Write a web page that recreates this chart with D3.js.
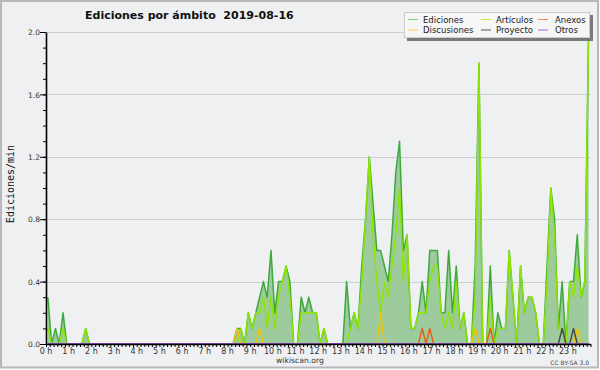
<!DOCTYPE html>
<html><head><meta charset="utf-8">
<script src="https://cdn.jsdelivr.net/npm/d3@7"></script>
<style>html,body{margin:0;padding:0;background:#fff}svg{display:block}</style>
</head><body>
<svg id="c" width="600" height="370"></svg>
<script>
// ---- data (one value per 10 minutes, edits/min) ----
const hourLabels = ["0 h","1 h","2 h","3 h","4 h","5 h","6 h","7 h","8 h","9 h","10 h","11 h",
  "12 h","13 h","14 h","15 h","16 h","17 h","18 h","19 h","20 h","21 h","22 h","23 h"];
const yTickValues = [0.0, 0.4, 0.8, 1.2, 1.6, 2.0];
const seriesNames = ["Ediciones","Artículos","Anexos","Discusiones","Proyecto","Otros"];

const ediciones = [
  0.3,0,0.1,0,0.2,0,0,0,0,0,0.1,0,
  0,0,0,0,0,0,0,0,0,0,0,0,
  0,0,0,0,0,0,0,0,0,0,0,0,
  0,0,0,0,0,0,0,0,0,0,0,0,
  0,0,0.1,0.1,0,0.2,0.1,0.2,0.3,0.4,0.3,0.6,
  0.2,0.4,0.4,0.5,0.4,0,0,0.3,0.2,0.3,0.2,0.2,
  0,0.1,0,0,0,0,0,0.4,0.1,0.2,0.1,0.5,
  0.8,1.2,0.9,0.6,0.6,0.5,0.4,0.7,1.1,1.3,0.6,0.7,
  0.1,0.1,0.2,0.4,0.2,0.6,0.6,0.6,0.2,0.2,0.6,0.2,
  0.5,0.1,0.2,0,0,0.5,1.8,0,0,0.5,0,0.2,
  0.1,0.1,0.6,0.3,0,0.5,0.2,0.3,0.3,0.2,0,0,
  0.5,1.0,0.8,0.1,0.4,0,0.4,0.4,0.7,0.3,0.4,2.0
];
const articulos = [
  0.1,0,0,0,0.1,0,0,0,0,0,0.1,0,
  0,0,0,0,0,0,0,0,0,0,0,0,
  0,0,0,0,0,0,0,0,0,0,0,0,
  0,0,0,0,0,0,0,0,0,0,0,0,
  0,0,0,0.1,0,0.2,0.1,0.2,0.2,0.3,0.1,0.3,
  0.1,0.3,0.4,0.5,0.3,0,0,0.2,0.2,0.2,0.2,0.2,
  0,0.1,0,0,0,0,0,0,0.1,0.2,0.1,0.4,
  0.8,1.2,0.7,0.4,0.2,0.4,0.3,0.5,0.7,1.0,0.4,0.7,
  0.1,0.1,0.2,0.2,0.2,0.4,0.5,0.5,0.2,0.1,0.2,0.1,
  0.4,0.1,0.2,0,0,0.3,1.8,0,0,0.3,0,0.1,
  0.1,0.1,0.6,0.3,0,0.5,0.2,0.3,0.3,0.2,0,0,
  0.4,1.0,0.7,0.1,0.1,0,0.4,0.3,0.5,0.3,0.4,2.0
];
const anexos = [
  0,0,0,0,0,0,0,0,0,0,0,0,
  0,0,0,0,0,0,0,0,0,0,0,0,
  0,0,0,0,0,0,0,0,0,0,0,0,
  0,0,0,0,0,0,0,0,0,0,0,0,
  0,0,0,0,0,0,0,0,0,0,0,0,
  0,0,0,0,0,0,0,0,0,0,0,0,
  0,0,0,0,0,0,0,0,0,0,0,0,
  0,0,0,0,0,0,0,0,0,0,0,0,
  0,0,0,0.1,0,0.1,0,0,0,0,0,0,
  0,0,0,0,0,0,0,0,0,0.1,0,0,
  0,0,0,0,0,0,0,0,0,0,0,0,
  0,0,0,0,0,0,0,0,0,0,0,0
];
const discusiones = [
  0,0,0,0,0,0,0,0,0,0,0,0,
  0,0,0,0,0,0,0,0,0,0,0,0,
  0,0,0,0,0,0,0,0,0,0,0,0,
  0,0,0,0,0,0,0,0,0,0,0,0,
  0,0,0.1,0,0,0,0,0,0.1,0,0,0,
  0,0,0,0,0,0,0,0,0,0,0,0,
  0,0,0,0,0,0,0,0,0,0,0,0,
  0,0,0,0,0.2,0,0,0,0,0,0,0,
  0,0,0,0,0,0,0,0,0,0,0,0,
  0,0,0,0,0,0.1,0,0,0,0,0,0,
  0,0,0,0,0,0,0,0,0,0,0,0,
  0,0,0,0,0,0,0,0,0.1,0,0,0
];
const proyecto = [
  0,0,0,0,0,0,0,0,0,0,0,0,
  0,0,0,0,0,0,0,0,0,0,0,0,
  0,0,0,0,0,0,0,0,0,0,0,0,
  0,0,0,0,0,0,0,0,0,0,0,0,
  0,0,0,0,0,0,0,0,0,0,0,0,
  0,0,0,0,0,0,0,0,0,0,0,0,
  0,0,0,0,0,0,0,0,0,0,0,0,
  0,0,0,0,0,0,0,0,0,0,0,0,
  0,0,0,0,0,0,0,0,0,0,0,0,
  0,0,0,0,0,0,0,0,0,0,0,0,
  0,0,0,0,0,0,0,0,0,0,0,0,
  0,0,0,0,0.1,0,0,0.1,0,0,0,0
];
const otros = [
  0,0,0,0,0,0,0,0,0,0,0,0,
  0,0,0,0,0,0,0,0,0,0,0,0,
  0,0,0,0,0,0,0,0,0,0,0,0,
  0,0,0,0,0,0,0,0,0,0,0,0,
  0,0,0,0,0,0,0,0,0,0,0,0,
  0,0,0,0,0,0,0,0,0,0,0,0,
  0,0,0,0,0,0,0,0,0,0,0,0,
  0,0,0,0,0,0,0,0,0,0,0,0,
  0,0,0,0,0,0,0,0,0,0,0,0,
  0,0,0,0,0,0,0,0,0,0,0,0,
  0,0,0,0,0,0,0,0,0,0,0,0,
  0,0,0,0,0,0,0,0,0,0,0,0
];

(function draw() {
const colors = {
  "Ediciones":"#3daa3d", "Artículos":"#8ee600", "Anexos":"#ee5a10",
  "Discusiones":"#f0c400", "Proyecto":"#444444", "Otros":"#9a4ef0"
};
const legendColors = {
  "Ediciones":"#86cc86", "Artículos":"#c4ee4a", "Anexos":"#f08a5a",
  "Discusiones":"#f6d050", "Proyecto":"#555555", "Otros":"#a060f0"
};
const pLeft = 46, pRight = 590.5, pTop = 32, pBottom = 344;
const svg = d3.select("#c");
svg.append("rect").attr("width",600).attr("height",370).attr("fill","#ffffff");
svg.append("rect").attr("x",1).attr("y",1).attr("width",597).attr("height",366.5)
  .attr("fill","#eef0f2").attr("stroke","#b8b8b8").attr("stroke-width",2);

const x = d3.scaleLinear().domain([0,24]).range([pLeft,pRight]);
const y = d3.scaleLinear().domain([0,2]).range([pBottom,pTop]);
const tx = i => x((i + 0.5) / 6);

// gridlines
svg.append("g").selectAll("line").data(yTickValues.filter(v => v > 0)).join("line")
  .attr("x1",pLeft).attr("x2",pRight)
  .attr("y1",d => Math.round(y(d)) + 0.5).attr("y2",d => Math.round(y(d)) + 0.5)
  .attr("stroke","#cfcfcf").attr("stroke-width",1);

// Ediciones area
const area = d3.area().x((d,i) => tx(i)).y0(y(0)).y1(d => y(d));
const line = d3.line().x((d,i) => tx(i)).y(d => y(d));
svg.append("path").datum(ediciones).attr("d",area).attr("fill","#9ecb9e");
svg.append("path").datum(ediciones).attr("d",line).attr("fill","none")
  .attr("stroke",colors["Ediciones"]).attr("stroke-width",1.5).attr("stroke-linejoin","round");

const order = [["Artículos",articulos],["Anexos",anexos],["Discusiones",discusiones],["Proyecto",proyecto],["Otros",otros]];
order.forEach(([name, vals]) => {
  svg.append("path").datum(vals).attr("d",line).attr("fill","none")
    .attr("stroke",colors[name]).attr("stroke-width",1.4).attr("stroke-linejoin","round");
});

// y axis
const fontTick = "'DejaVu Sans', sans-serif";
const yMinor = svg.append("g").attr("transform",`translate(${pLeft},0)`)
  .call(d3.axisLeft(y).tickValues(d3.range(0,21).map(k => k/10)).tickSize(3).tickFormat(""));
yMinor.select(".domain").remove();
const yAx = svg.append("g").attr("transform",`translate(${pLeft},0)`)
  .call(d3.axisLeft(y).tickValues(yTickValues).tickSize(6).tickSizeOuter(0).tickFormat(d3.format(".1f")));
yAx.select(".domain").attr("stroke","#000").attr("stroke-width",1.6);
yAx.selectAll("text").attr("font-family",fontTick).attr("font-size",7.5).attr("fill","#333").attr("x",-6).attr("dy","0.35em");
svg.selectAll("g .tick line").attr("stroke","#000");

// x axis
const xAx = svg.append("g").attr("transform",`translate(0,${pBottom})`)
  .call(d3.axisBottom(x).tickValues(d3.range(0,145).map(k => k/6)).tickSize(3).tickSizeOuter(0).tickFormat(""));
xAx.select(".domain").attr("stroke","#000").attr("stroke-width",1.6);
xAx.selectAll(".tick line").attr("stroke","#000");
svg.append("g").selectAll("text").data(hourLabels).join("text")
  .attr("x",(d,i) => x(i)).attr("y",353.5).attr("text-anchor","middle")
  .attr("font-family",fontTick).attr("font-size",8).attr("fill","#333").text(d => d);

// titles
svg.append("text").attr("x",85).attr("y",19).attr("font-family","'DejaVu Sans', sans-serif")
  .attr("font-weight","bold").attr("font-size",11).attr("fill","#111")
  .text("Ediciones por ámbito\u00A0\u00A02019-08-16");
svg.append("text").attr("transform","translate(14,184) rotate(-90)").attr("text-anchor","middle")
  .attr("font-family","'DejaVu Sans Mono', monospace").attr("font-size",10).attr("fill","#111")
  .text("Ediciones/min");
svg.append("text").attr("x",300).attr("y",363).attr("text-anchor","middle")
  .attr("font-family",fontTick).attr("font-size",7.7).attr("fill","#333").text("wikiscan.org");
svg.append("text").attr("x",589).attr("y",365).attr("text-anchor","end")
  .attr("font-family",fontTick).attr("font-size",6).attr("fill","#444").text("CC BY-SA 3.0");

// legend
const lg = svg.append("g");
lg.append("rect").attr("x",407).attr("y",15).attr("width",186).attr("height",26).attr("fill","#7a7a7a");
lg.append("rect").attr("x",404.5).attr("y",12.5).attr("width",185).attr("height",25)
  .attr("fill","#f6f6f6").attr("stroke","#cccccc").attr("stroke-width",1);
const legendPos = [[408,19],[481,19],[538,19],[408,29.5],[481,29.5],[538,29.5]];
seriesNames.forEach((n,k) => {
  const [lx,ly] = legendPos[k];
  lg.append("line").attr("x1",lx).attr("x2",lx+10).attr("y1",ly+0.5).attr("y2",ly+0.5)
    .attr("stroke",legendColors[n]).attr("stroke-width",1);
  lg.append("text").attr("x",lx + (k%3===2 ? 17 : 15)).attr("y",ly+3.5)
    .attr("font-family",fontTick).attr("font-size",8.5).attr("fill","#222").text(n);
});
})();
</script>
</body></html>
